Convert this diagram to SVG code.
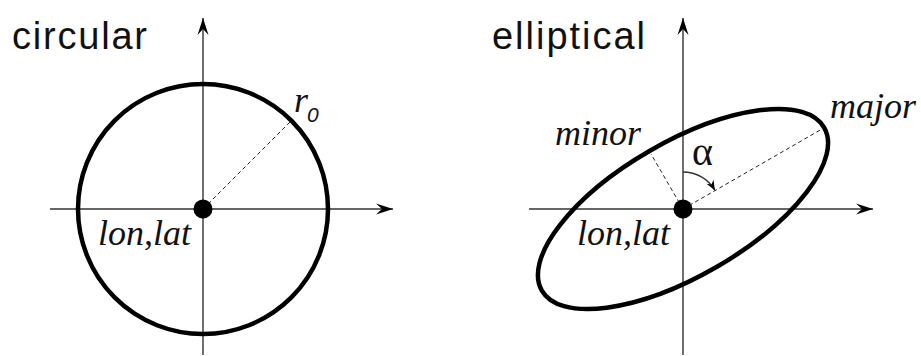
<svg xmlns="http://www.w3.org/2000/svg" width="921" height="356" viewBox="0 0 921 356">
<style>
.title{font-family:"Liberation Sans",Arial,sans-serif;font-size:38px;fill:#111}
.lab{font-family:"Liberation Serif","Times New Roman",serif;font-style:italic;font-size:36px;fill:#111}
.axis{stroke:#333;stroke-width:1.4;fill:none}
.shape{stroke:#000;stroke-width:4.5;fill:none}
.dash{stroke:#222;stroke-width:1;stroke-dasharray:4 3;fill:none}
</style>
<defs>
<marker id="arr" markerUnits="userSpaceOnUse" markerWidth="20" markerHeight="12" viewBox="-18 -6 20 12" refX="0" refY="0" orient="auto">
<path d="M0,0 L-17,-5.5 L-11,0 L-17,5.5 Z" fill="#000"/>
</marker>
<marker id="arrs" markerUnits="userSpaceOnUse" markerWidth="12" markerHeight="10" viewBox="-11 -5 12 10" refX="0" refY="0" orient="auto">
<path d="M0,0 L-10,-4 L-7,0 L-10,4 Z" fill="#000"/>
</marker>
</defs>
<g id="circular">
<text class="title" x="12" y="49" textLength="135" lengthAdjust="spacing">circular</text>
<g id="connectors-left">
<line class="axis" x1="203" y1="355" x2="203" y2="18" marker-end="url(#arr)"/>
<line class="axis" x1="50" y1="209" x2="393" y2="209" marker-end="url(#arr)"/>
<line class="dash" x1="203" y1="209" x2="290" y2="122"/>
</g>
<g id="circle-node">
<circle class="shape" cx="203" cy="209" r="125"/>
<circle cx="203" cy="209" r="9.5" fill="#000"/>
</g>
<text class="lab" x="98" y="245">lon,lat</text>
<text class="lab" x="294" y="112">r</text>
<text x="307" y="122" style="font-family:'Liberation Sans',Arial,sans-serif;font-style:italic;font-size:21px;fill:#111">0</text>
</g>
<g id="elliptical">
<text class="title" x="492" y="49" textLength="153" lengthAdjust="spacing">elliptical</text>
<g id="connectors-right">
<line class="axis" x1="683" y1="355" x2="683" y2="18" marker-end="url(#arr)"/>
<line class="axis" x1="529" y1="209" x2="873" y2="209" marker-end="url(#arr)"/>
<line class="dash" x1="683" y1="209" x2="822" y2="129"/>
<line class="dash" x1="683" y1="209" x2="651" y2="154"/>
<path class="axis" d="M683,172 A37,37 0 0 1 715,190.5" stroke="#000" marker-end="url(#arrs)"/>
</g>
<g id="ellipse-node">
<ellipse class="shape" cx="683" cy="209" rx="163" ry="67" transform="rotate(-30 683 209)"/>
<circle cx="683" cy="209" r="9.5" fill="#000"/>
</g>
<text class="lab" x="577" y="245">lon,lat</text>
<text class="lab" x="555" y="145">minor</text>
<text class="lab" x="830" y="118">major</text>
<text x="692" y="165" style="font-family:'Liberation Serif','Times New Roman',serif;font-size:40px;fill:#111">α</text>
</g>
</svg>
